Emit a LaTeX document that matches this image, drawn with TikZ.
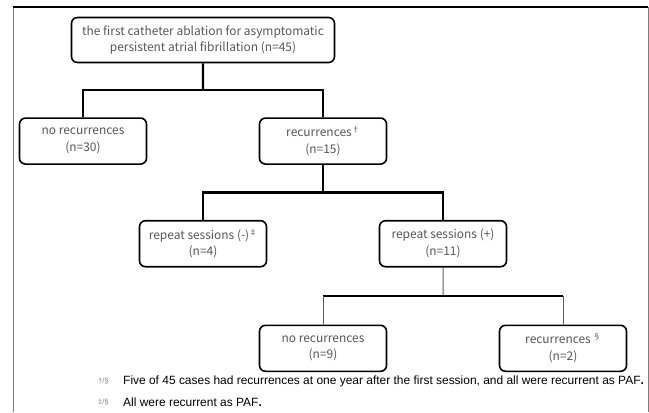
\documentclass[tikz,border=0pt]{standalone}
\usepackage{fontspec}
\setmainfont{Liberation Sans}
\newfontfamily\boxfont{Noto Sans CJK JP}
\usepackage{xcolor}
\definecolor{boxtext}{RGB}{85,85,85}
\definecolor{frameline}{RGB}{125,125,125}
\definecolor{thinline}{RGB}{90,90,90}
\usetikzlibrary{positioning, calc}
\tikzstyle{Box} = [
draw, line width=1.6bp,
rounded corners=6bp,
minimum width=127bp, minimum height=46bp,
inner sep=2bp, align=center,
text=boxtext, font=\boxfont\fontsize{12}{17}\selectfont]
\tikzstyle{Link} = [line width=2.2bp]
\tikzstyle{Thin} = [line width=1bp, draw=thinline]
\tikzstyle{Note} = [anchor=west, inner sep=0pt, font=\fontsize{12}{14}\selectfont]
\tikzstyle{Mark} = [anchor=west, inner sep=0pt, text=gray, font=\fontsize{7.5}{8}\selectfont]
\newcommand{\supmark}[1]{{\fontsize{8}{8}\selectfont\raisebox{0.9ex}{#1}}}

\begin{document}
\begin{tikzpicture}[x=1bp, y=-1bp, node distance=55bp]
        \useasboundingbox (0,0) rectangle (649,412);
        % frame, open at the bottom
        \draw[frameline, line width=1bp] (13,412) -- (13,7);
        \draw[line width=1.2bp] (13,7) -- (648,7);
        \draw[frameline, line width=1bp] (648,7) -- (648,412);

        \node [Box, minimum width=263bp, minimum height=45bp] (first) at (203,40)
            {the first catheter ablation for asymptomatic\\persistent atrial fibrillation (n=45)};
        \node [Box, below=54bp of first, xshift=-120bp] (norec) {no recurrences\\(n=30)};
        \node [Box, below=54bp of first, xshift=120bp] (rec) {recurrences\supmark{†}\\(n=15)};
        \node [Box, below=of rec, xshift=-120bp] (repminus) {repeat sessions (-)\supmark{‡}\\(n=4)};
        \node [Box, below=of rec, xshift=120bp] (repplus) {repeat sessions (+)\\(n=11)};
        \node [Box, below=57bp of repplus, xshift=-120bp] (norecb) {no recurrences\\(n=9)};
        \node [Box, below=57bp of repplus, xshift=120bp] (recb) {recurrences\,\supmark{§}\\(n=2)};

        \coordinate (j1) at ($(first.south)!.5!(first.south |- norec.north)$);
        \coordinate (j2) at ($(rec.south)!.5!(rec.south |- repminus.north)$);
        \coordinate (j3) at ($(repplus.south)!.5!(repplus.south |- norecb.north)$);

        \draw[Link] (first.south) -- (j1);
        \draw[Link] (norec.north) |- (j1) -| (rec.north);
        \draw[Link] (rec.south) -- (j2);
        \draw[Link] (repminus.north) |- (j2) -| (repplus.north);
        \draw[Thin] (repplus.south) -- (j3);
        \draw[Link] (norecb.north |- j3) -- (recb.north |- j3);
        \draw[Thin] (norecb.north) -- (norecb.north |- j3);
        \draw[Thin] (recb.north) -- (recb.north |- j3);

        % footnotes
        \node [Mark] (markone) at (98,381) {†/§};
        \node [Note] (noteone) at (123,381)
            {Five of 45 cases had recurrences at one year after the first session, and all were recurrent as PAF\textbf{.}};
        \node [Mark] (marktwo) at (98,402) {‡/§};
        \node [Note] (notetwo) at (123,402) {All were recurrent as PAF\textbf{.}};
    \end{tikzpicture}
\end{document}
